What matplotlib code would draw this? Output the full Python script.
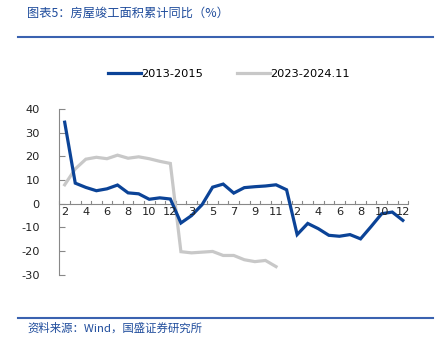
import matplotlib.pyplot as plt
import numpy as np

plt.rcParams['font.family'] = ['DejaVu Sans', 'Noto Sans CJK SC']

# 累计同比 (%)，2月起（1-2月合并）
s_2013_2015 = [34.4, 8.7, 6.9, 5.5, 6.3, 7.9, 4.6, 4.2, 1.9, 2.5, 2.0,
               -8.1, -5.0, -0.4, 7.0, 8.3, 4.5, 6.8, 7.2, 7.5, 8.0, 5.9,
               -13.0, -8.3, -10.5, -13.3, -13.7, -13.0, -14.8, -9.6, -4.2, -3.5, -7.0]
s_2023_2024 = [8.0, 14.7, 18.8, 19.6, 19.0, 20.5, 19.2, 19.8, 19.0, 17.9, 17.0,
               -20.2, -20.7, -20.4, -20.1, -21.8, -21.8, -23.6, -24.4, -23.9, -26.5]
months = [2, 3, 4, 5, 6, 7, 8, 9, 10, 11, 12] * 3
yticks = [-30, -20, -10, 0, 10, 20, 30, 40]

blue = '#0B4397'
gray = '#C8C8C8'
title_blue = '#1F4C9C'

fig = plt.figure(figsize=(4.4, 3.52), dpi=100)
ax = fig.add_axes([0.135, 0.219, 0.7925, 0.4716])

x1 = np.arange(len(s_2013_2015))
x2 = np.arange(len(s_2023_2024))
l1, = ax.plot(x1, s_2013_2015, color=blue, lw=2.3, solid_joinstyle='miter', zorder=3)
l2, = ax.plot(x2, s_2023_2024, color=gray, lw=2.3, solid_joinstyle='miter', zorder=2)

ax.set_xlim(-0.5, len(months) - 0.5)
ax.set_ylim(-30, 40)
ax.set_yticks(yticks)
ax.set_yticklabels([str(v) for v in yticks], fontsize=8.2, color='#222222')
ax.tick_params(axis='y', direction='in', length=4, color='#888888', pad=14, width=0.8)
ax.set_xticks([])
for side in ['top', 'right', 'bottom']:
    ax.spines[side].set_visible(False)
ax.spines['left'].set_color('#888888')
ax.spines['left'].set_linewidth(0.8)

# zero axis with category boundary ticks
ax.axhline(0, color='#888888', lw=0.8, zorder=1)
for b in np.arange(-0.5, len(months), 1.0):
    ax.plot([b, b], [0, 1.3], color='#888888', lw=0.8, zorder=1, clip_on=False)
for i in range(0, len(months), 2):
    ax.text(i, -1.4, str(months[i]), ha='center', va='top', fontsize=8.2, color='#222222')

fig.legend([l1, l2], ['2013-2015', '2023-2024.11'], loc='center', ncol=2,
           bbox_to_anchor=(0.52, 0.79), frameon=False, fontsize=8.2,
           handlelength=2.9, handletextpad=0.0, columnspacing=3.0)

fig.text(0.062, 0.963, '图表5：房屋竣工面积累计同比（%）', fontsize=8.8,
         color=title_blue, va='center', ha='left', family=['Noto Sans CJK SC', 'DejaVu Sans'])
fig.add_artist(plt.Line2D([0.041, 0.984], [0.894, 0.894], color='#3A62B0', lw=1.5))
fig.add_artist(plt.Line2D([0.041, 0.984], [0.098, 0.098], color='#3A62B0', lw=1.5))
fig.text(0.062, 0.068, '资料来源：Wind，国盛证券研究所', fontsize=8.2,
         color=title_blue, va='center', ha='left', family=['Noto Sans CJK SC', 'DejaVu Sans'])

fig.savefig('out.png', dpi=100)
